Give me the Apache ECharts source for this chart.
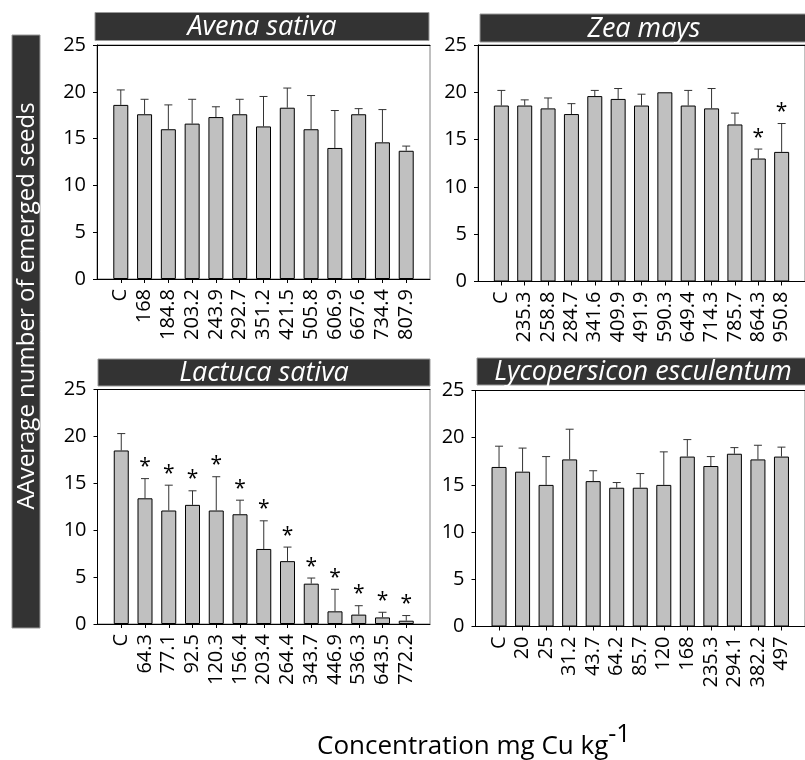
<!DOCTYPE html>
<html>
<head>
<meta charset="utf-8">
<script src="https://cdn.jsdelivr.net/npm/echarts@6/dist/echarts.min.js"></script>
<style>html,body{margin:0;padding:0;background:#fff}#c{width:805px;height:760px}</style>
</head>
<body>
<div id="c"></div>
<script>
// ---- data ----
const avenaCats = ['C','168','184.8','203.2','243.9','292.7','351.2','421.5','505.8','606.9','667.6','734.4','807.9'];
const avenaMean = [18.6,17.6,16.0,16.6,17.3,17.6,16.3,18.3,16.0,14.0,17.6,14.6,13.7];
const avenaErr  = [1.6,1.6,2.6,2.6,1.1,1.6,3.2,2.1,3.6,4.0,0.6,3.5,0.5];
const avenaSig  = [0,0,0,0,0,0,0,0,0,0,0,0,0];

const zeaCats = ['C','235.3','258.8','284.7','341.6','409.9','491.9','590.3','649.4','714.3','785.7','864.3','950.8'];
const zeaMean = [18.6,18.6,18.3,17.7,19.6,19.3,18.6,20.0,18.6,18.3,16.6,13.0,13.7];
const zeaErr  = [1.6,0.6,1.1,1.1,0.6,1.1,1.2,0,1.6,2.1,1.2,1.0,3.0];
const zeaSig  = [0,0,0,0,0,0,0,0,0,0,0,1,1];

const lactucaCats = ['C','64.3','77.1','92.5','120.3','156.4','203.4','264.4','343.7','446.9','536.3','643.5','772.2'];
const lactucaMean = [18.5,13.4,12.1,12.7,12.1,11.7,8.0,6.7,4.3,1.35,1.0,0.7,0.35];
const lactucaErr  = [1.8,2.1,2.7,1.5,3.6,1.5,3.0,1.5,0.6,2.35,0.95,0.55,0.55];
const lactucaSig  = [0,1,1,1,1,1,1,1,1,1,1,1,1];

const lycoCats = ['C','20','25','31.2','43.7','64.2','85.7','120','168','235.3','294.1','382.2','497'];
const lycoMean = [16.9,16.4,15.0,17.7,15.4,14.7,14.7,15.0,18.0,17.0,18.3,17.7,18.0];
const lycoErr  = [2.2,2.5,3.0,3.2,1.1,0.55,1.5,3.5,1.8,1.0,0.65,1.5,1.0];
const lycoSig  = [0,0,0,0,0,0,0,0,0,0,0,0,0];

const titles = ['Avena sativa','Zea mays','Lactuca sativa','Lycopersicon esculentum'];
const yTitle = 'AAverage number of emerged seeds';
const xTitle = 'Concentration mg Cu kg';
const xTitleSup = '-1';

// ---- layout ----
const FONT = 'Open Sans';
const panels = [
  {cats: avenaCats, mean: avenaMean, err: avenaErr, sig: avenaSig, grid: {left: 97, top: 45, width: 333, height: 234}, bar: [95, 12.5, 334, 28]},
  {cats: zeaCats, mean: zeaMean, err: zeaErr, sig: zeaSig, grid: {left: 478, top: 45, width: 336, height: 236.5}, bar: [480, 14, 328, 28]},
  {cats: lactucaCats, mean: lactucaMean, err: lactucaErr, sig: lactucaSig, grid: {left: 97.5, top: 389.5, width: 332.5, height: 234.5}, bar: [98, 359, 332, 27]},
  {cats: lycoCats, mean: lycoMean, err: lycoErr, sig: lycoSig, grid: {left: 475.5, top: 390.5, width: 337.5, height: 236}, bar: [477, 358, 332, 27]}
];

const grids = [], xAxes = [], yAxes = [], series = [], graphics = [];
panels.forEach((p, k) => {
  grids.push(Object.assign({show: true, borderColor: '#808080', borderWidth: 1, backgroundColor: 'transparent'}, p.grid));
  const idx = p.cats.map((_, i) => i);
  xAxes.push({
    type: 'value', gridIndex: k, min: -1, max: p.cats.length, interval: 1, position: 'bottom',
    splitLine: {show: false},
    axisLine: {show: true, onZero: false, lineStyle: {color: '#000', width: 1}},
    axisTick: {show: true, length: 4, inside: false, customValues: idx, lineStyle: {color: '#000'}},
    axisLabel: {show: true, rotate: 90, margin: 10, fontFamily: FONT, fontSize: 20, color: '#000',
      customValues: idx, formatter: v => p.cats[Math.round(v)] || ''}
  });
  xAxes.push({
    type: 'value', gridIndex: k, min: -1, max: p.cats.length, position: 'top',
    splitLine: {show: false}, axisTick: {show: false}, axisLabel: {show: false},
    axisLine: {show: true, onZero: false, lineStyle: {color: '#000', width: 1}}
  });
  yAxes.push({
    type: 'value', gridIndex: k, min: 0, max: 25, interval: 5, position: 'left',
    splitLine: {show: false},
    axisLine: {show: true, onZero: false, lineStyle: {color: '#000', width: 1}},
    axisTick: {show: true, length: 4, lineStyle: {color: '#000'}},
    axisLabel: {fontFamily: FONT, fontSize: 20, color: '#000', margin: 11}
  });
  series.push({
    type: 'bar', xAxisIndex: 2 * k, yAxisIndex: k, barWidth: 15,
    itemStyle: {color: '#c0c0c0', borderColor: '#000', borderWidth: 1},
    data: p.mean.map((v, i) => [i, v]), silent: true, z: 2
  });
  series.push({
    type: 'custom', xAxisIndex: 2 * k, yAxisIndex: k, z: 3, silent: true,
    data: p.mean.map((v, i) => [i, v, p.err[i], p.sig[i]]),
    renderItem: function (params, api) {
      const x = api.value(0), m = api.value(1), e = api.value(2), s = api.value(3);
      const p0 = api.coord([x, m]);
      const p1 = api.coord([x, m + e]);
      const ch = [];
      const st = {stroke: '#333', lineWidth: 1};
      if (e > 0) {
        ch.push({type: 'line', shape: {x1: p0[0], y1: p0[1], x2: p1[0], y2: p1[1]}, style: st});
        ch.push({type: 'line', shape: {x1: p1[0] - 4, y1: p1[1], x2: p1[0] + 4, y2: p1[1]}, style: st});
      }
      if (s) {
        ch.push({type: 'text', x: p1[0], y: p1[1] - 1,
          style: {text: '*', fill: '#000', font: '21px "' + FONT + '"', align: 'center', verticalAlign: 'bottom'}});
      }
      return {type: 'group', children: ch};
    }
  });
  const b = p.bar;
  graphics.push({type: 'rect', shape: {x: b[0], y: b[1], width: b[2], height: b[3]},
    style: {fill: '#333333', stroke: '#9a9a9a', lineWidth: 1}, z: 10});
  graphics.push({type: 'text', x: b[0] + b[2] / 2, y: b[1] + b[3] / 2 + 1,
    style: {text: titles[k], fill: '#fff', font: 'italic 27px "' + FONT + '"', align: 'center', verticalAlign: 'middle'}, z: 11});
});

// y-axis title box
graphics.push({type: 'rect', shape: {x: 12, y: 35, width: 28, height: 593},
  style: {fill: '#333333', stroke: '#9a9a9a', lineWidth: 1}, z: 10});
graphics.push({type: 'text', x: 27, y: 306, rotation: Math.PI / 2,
  style: {text: yTitle, fill: '#fff', font: '24px "' + FONT + '"', align: 'center', verticalAlign: 'middle'}, z: 11});
// x-axis title
graphics.push({type: 'text', x: 317, y: 744,
  style: {text: '{a|' + xTitle + '}{b|' + xTitleSup + '}', align: 'left', verticalAlign: 'middle',
    rich: {
      a: {fontFamily: FONT, fontSize: 26, color: '#000', lineHeight: 32, verticalAlign: 'bottom'},
      b: {fontFamily: FONT, fontSize: 25, color: '#000', lineHeight: 28, verticalAlign: 'bottom', padding: [0, 0, 13, 0]}
    }}, z: 11});

const chart = echarts.init(document.getElementById('c'), null, {renderer: 'canvas'});
chart.setOption({
  animation: false,
  backgroundColor: '#fff',
  grid: grids, xAxis: xAxes, yAxis: yAxes, series: series, graphic: graphics
});
</script>
</body>
</html>
